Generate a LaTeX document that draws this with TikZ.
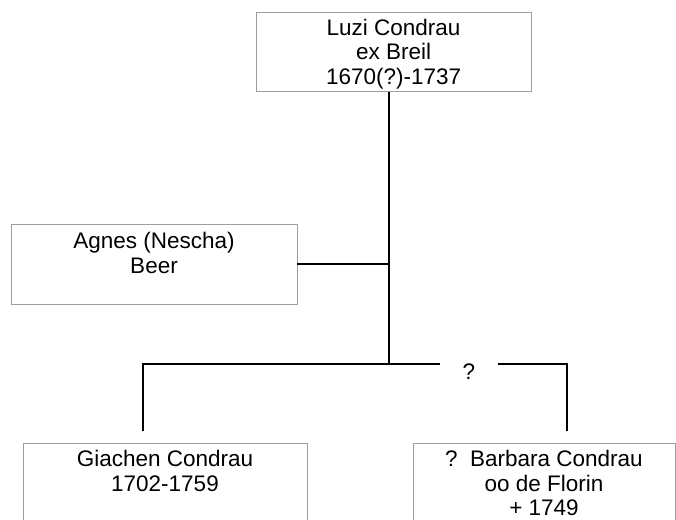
\documentclass[tikz,border=0pt]{standalone}
\usepackage{fontspec}
\setmainfont{Liberation Sans}

\begin{document}
\begin{tikzpicture}[
    person/.style={draw=gray!75, line width=0.7pt, rectangle, align=center,
        font=\fontsize{16}{17.2}\selectfont, inner sep=2pt},
    link/.style={draw=black, line width=1.8pt}]

\useasboundingbox (0,0) rectangle (16.9,-12.975);
\clip (0,0) rectangle (16.9,-12.975);

\node[person, minimum width=6.875cm, minimum height=1.975cm, inner ysep=1pt] (luzi) at (9.84,-1.29) {\rule{0pt}{15pt}Luzi Condrau\\ex Breil\\1670(?)-1737};
\node[person, minimum width=7.15cm, minimum height=2cm] (agnes) at (3.85,-6.6) {\rule{0pt}{13pt}Agnes (Nescha)\\Beer\\\mbox{}};

\node[person, anchor=north, minimum width=7.1cm, inner ysep=5pt] (giachen) at (4.125,-11.075) {Giachen Condrau\\1702-1759\\\mbox{}\\\mbox{}};
\node[person, anchor=north, minimum width=6.55cm, inner ysep=5pt] (barbara) at (13.6,-11.075) {?\ \ Barbara Condrau\\oo de Florin\\+ 1749\\\mbox{}};

\coordinate (marriage) at (9.725,-6.6);
\coordinate (fork) at (9.725,-9.1);
\coordinate (leftchild) at (3.575,-10.775);
\coordinate (rightchild) at (14.175,-10.775);

\node[font=\fontsize{16}{17.2}\selectfont, minimum width=1.425cm, inner sep=0] (unsure) at (11.72,-9.3) {?};

\draw[link] (luzi.south -| fork) to (fork);
\draw[link] (agnes.east) to (marriage);
\draw[link] (unsure.west |- fork) to (fork) -| (leftchild);
\draw[link] (unsure.east |- fork) -| (rightchild);

\end{tikzpicture}
\end{document}
